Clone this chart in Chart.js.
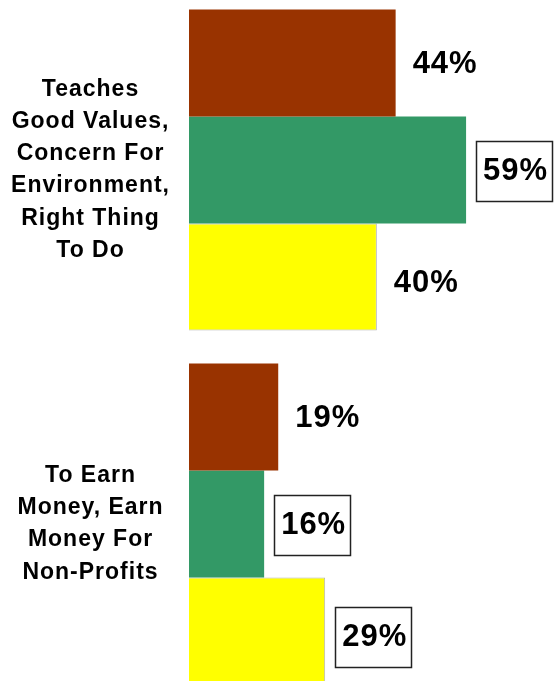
<!DOCTYPE html>
<html>
<head>
<meta charset="utf-8">
<script src="https://cdn.jsdelivr.net/npm/chart.js@4.4.1/dist/chart.umd.min.js"></script>
<style>
    html, body { margin: 0; padding: 0; background: #fff; overflow: hidden; }
    body { width: 560px; height: 681px; position: relative; }
    #reasonsChart { position: absolute; left: 0; top: -7px; }
</style>
</head>
<body>
<canvas id="reasonsChart" width="560" height="708"></canvas>
<script>
// Категории (подписи по оси Y)
const categories = [
    ['Teaches', 'Good Values,', 'Concern For', 'Environment,', 'Right Thing', 'To Do'],
    ['To Earn', 'Money, Earn', 'Money For', 'Non-Profits']
];

// Значения серий, %
const seriesBrown = [44, 19];
const seriesGreen = [59, 16];
const seriesYellow = [40, 29];

// Какие подписи значений обведены рамкой
const boxedBrown = [false, false];
const boxedGreen = [true, true];
const boxedYellow = [false, true];

const valueLabelFont = 'bold 31px "Liberation Sans", Arial, sans-serif';

// Плагин: чуть разреженный текст, как в оригинале
const letterSpacing = {
    id: 'letterSpacing',
    beforeLayout(chart) { chart.ctx.letterSpacing = '1px'; },
    beforeDraw(chart) { chart.ctx.letterSpacing = '1px'; }
};

// Плагин: подписи значений справа от столбцов
const valueLabels = {
    id: 'valueLabels',
    afterDatasetsDraw(chart) {
        const ctx = chart.ctx;
        ctx.save();
        ctx.font = valueLabelFont;
        ctx.letterSpacing = '1px';
        ctx.textBaseline = 'middle';
        ctx.textAlign = 'left';
        chart.data.datasets.forEach((ds, i) => {
            const meta = chart.getDatasetMeta(i);
            meta.data.forEach((bar, j) => {
                const text = ds.data[j] + '%';
                const w = ctx.measureText(text).width;
                const x = bar.x + 17;
                const y = bar.y + (i === 2 ? 6 : 1);
                if (ds.boxed[j]) {
                    ctx.strokeStyle = '#222';
                    ctx.lineWidth = 1.5;
                    ctx.strokeRect(Math.round(x - 7) + 0.5, Math.round(y - 30) + 0.5, Math.round(w + 11), 60);
                }
                ctx.fillStyle = '#000';
                ctx.fillText(text, x, y);
            });
        });
        ctx.restore();
    }
};

const reasonsData = {
    labels: categories,
    datasets: [{
        data: seriesBrown,
        boxed: boxedBrown,
        backgroundColor: '#993300',
        borderWidth: 0
    }, {
        data: seriesGreen,
        boxed: boxedGreen,
        backgroundColor: '#339966',
        borderWidth: 0
    }, {
        data: seriesYellow,
        boxed: boxedYellow,
        backgroundColor: '#FFFF00',
        borderColor: '#b4b4b4',
        borderWidth: 1
    }]
};

const reasonsConfig = {
    type: 'bar',
    data: reasonsData,
    plugins: [letterSpacing, valueLabels],
    options: {
        indexAxis: 'y',
        responsive: false,
        animation: false,
        devicePixelRatio: 1,
        categoryPercentage: 0.907,
        barPercentage: 1.0,
        layout: { padding: 0 },
        plugins: {
            legend: { display: false },
            tooltip: { enabled: false }
        },
        scales: {
            x: {
                display: false,
                min: 0,
                max: 79
            },
            y: {
                grid: { display: false },
                border: { display: false },
                afterFit(scale) {
                    scale.width = 189;
                    scale.paddingTop = 0;
                    scale.paddingBottom = 0;
                },
                ticks: {
                    color: '#000',
                    crossAlign: 'center',
                    padding: 11,
                    font: { family: '"Liberation Sans", Arial, sans-serif', size: 23, weight: 'bold', lineHeight: 1.4 }
                }
            }
        }
    }
};

window.onload = function() {
    const ctx = document.getElementById('reasonsChart').getContext('2d');
    new Chart(ctx, reasonsConfig);
};
</script>
</body>
</html>
